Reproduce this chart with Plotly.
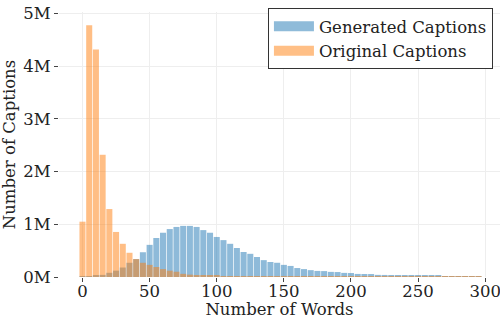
import plotly.graph_objects as go

# Bin centers (number of words)
word_bins = [0, 5, 10, 15, 20, 25, 30, 35, 40, 45,
             50, 55, 60, 65, 70, 75, 80, 85, 90, 95,
             100, 105, 110, 115, 120, 125, 130, 135, 140, 145,
             150, 155, 160, 165, 170, 175, 180, 185, 190, 195,
             200, 205, 210, 215, 220, 225, 230, 235, 240, 245,
             250, 255, 260, 265, 270, 275, 280, 285, 290, 295]

# Counts in millions
generated_counts = [0.005, 0.01, 0.02, 0.04, 0.08, 0.12, 0.18, 0.27, 0.34, 0.47,
                    0.61, 0.74, 0.84, 0.91, 0.95, 0.97, 0.97, 0.95, 0.89, 0.84,
                    0.76, 0.70, 0.63, 0.55, 0.475, 0.44, 0.38, 0.32, 0.285, 0.27,
                    0.23, 0.21, 0.17, 0.15, 0.13, 0.115, 0.112, 0.097, 0.094, 0.078,
                    0.075, 0.058, 0.057, 0.056, 0.040, 0.039, 0.038, 0.037, 0.022, 0.021,
                    0.021, 0.020, 0.020, 0.020, 0.019, 0.019, 0.018, 0.018, 0.004, 0.002]

original_counts = [1.05, 4.78, 4.32, 2.32, 1.29, 0.855, 0.63, 0.46, 0.34, 0.27,
                   0.23, 0.19, 0.15, 0.12, 0.10, 0.06, 0.045, 0.035, 0.03, 0.025,
                   0.02, 0.018, 0.016, 0.015, 0.014, 0.013, 0.012, 0.012, 0.011, 0.011,
                   0.010, 0.010, 0.010, 0.009, 0.009, 0.009, 0.009, 0.008, 0.008, 0.008,
                   0.008, 0.007, 0.007, 0.007, 0.007, 0.006, 0.006, 0.006, 0.006, 0.006,
                   0.006, 0.005, 0.005, 0.005, 0.005, 0.005, 0.005, 0.005, 0.004, 0.002]

series_names = ["Generated Captions", "Original Captions"]
series_colors = ["#1f77b4", "#ff7f0e"]

y_tick_vals = [0, 1, 2, 3, 4, 5]
y_tick_text = ["0M", "1M", "2M", "3M", "4M", "5M"]
x_tick_vals = [0, 50, 100, 150, 200, 250, 300]

FONT = "DejaVu Serif"
FS = 16.5

fig = go.Figure()
for name, color, counts in zip(series_names, series_colors, [generated_counts, original_counts]):
    fig.add_trace(go.Bar(
        x=word_bins, y=[v * 1e6 for v in counts], name=name, legendgroup=name,
        marker=dict(color=color, line=dict(width=0)), opacity=0.5, width=4.5,
        showlegend=False,
    ))
# legend entries drawn as wide patches (no data points)
for name, color in zip(series_names, series_colors):
    fig.add_trace(go.Scatter(
        x=[None], y=[None], mode="lines", name=name, legendgroup=name,
        line=dict(color=color, width=12), opacity=0.5, showlegend=True,
    ))

fig.update_layout(
    width=500, height=319,
    margin=dict(l=59, r=0, t=12, b=42),
    barmode="overlay",
    plot_bgcolor="white", paper_bgcolor="white",
    font=dict(family=FONT, size=FS, color="#222222"),
    showlegend=True,
    legend=dict(
        x=0.984, y=1.015, xanchor="right", yanchor="top",
        bgcolor="white", bordercolor="#333333", borderwidth=1,
        font=dict(family=FONT, size=FS, color="#222222"),
        itemwidth=40, tracegroupgap=0,
    ),
    xaxis=dict(
        range=[-17.5, 311.0], tickvals=x_tick_vals,
        showgrid=True, gridcolor="#eeeeee", gridwidth=1, zeroline=False,
        ticks="outside", ticklen=4, tickcolor="#444444", tickwidth=1,
        showline=False, ticklabeloverflow="allow", ticklabelstandoff=-5,
        title=dict(text="Number of Words", font=dict(family=FONT, size=FS)),
        automargin=False,
    ),
    yaxis=dict(
        range=[0, 5.03e6], tickvals=[v * 1e6 for v in y_tick_vals], ticktext=y_tick_text,
        showgrid=True, gridcolor="#eeeeee", gridwidth=1, zeroline=False,
        ticks="outside", ticklen=4, tickcolor="#444444", tickwidth=1,
        showline=False,
        title=dict(text="Number of Captions", font=dict(family=FONT, size=FS)),
        automargin=False,
    ),
)

fig.write_html(
    "out.html",
    config={"displayModeBar": False},
    post_script="document.body.style.margin='0';document.body.style.padding='0';document.documentElement.style.overflow='hidden';",
)
